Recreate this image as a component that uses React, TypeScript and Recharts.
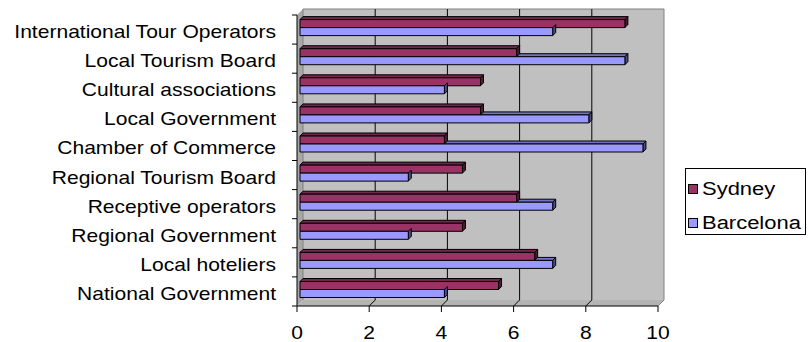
import { Bar, BarChart, Legend, ReferenceArea, XAxis, YAxis } from "recharts";

const categories = [
  "International Tour Operators",
  "Local Tourism Board",
  "Cultural associations",
  "Local Government",
  "Chamber of Commerce",
  "Regional Tourism Board",
  "Receptive operators",
  "Regional Government",
  "Local hoteliers",
  "National Government",
];
const sydney = [9, 6, 5, 5, 4, 4.5, 6, 4.5, 6.5, 5.5];
const barcelona = [7, 9, 4, 8, 9.5, 3, 7, 3, 7, 4];
const xTicks = [0, 2, 4, 6, 8, 10];

const data = categories.map((name, i) => ({
  name,
  Sydney: sydney[i],
  Barcelona: barcelona[i],
}));

// wall segments between neighbouring ticks
const panels = xTicks.slice(0, -1).map((t, i) => [t, xTicks[i + 1]]);

const D = 3; // half depth of the 3d box
const FONT = "'Liberation Sans', Arial, sans-serif";
const STRETCH = 1.17;

const colors = {
  Sydney: { front: "#993366", top: "#73264D", side: "#4D1A33" },
  Barcelona: { front: "#9999FF", top: "#7373BF", side: "#4D4D80" },
};

const WallPanel = (props: any) => {
  const { x, y, width, height, first, last } = props;
  const bx = x + D;
  const by = y - D;
  const fy = y + height + D;
  const n = categories.length;
  return (
    <g>
      <rect x={bx} y={by} width={width} height={height} fill="#C0C0C0" />
      <line x1={bx} y1={by} x2={bx + width} y2={by} stroke="#808080" />
      <polygon
        points={`${bx},${by + height} ${bx + width},${by + height} ${x + width - D},${fy} ${x - D},${fy}`}
        fill="#B4B4B4"
      />
      {!first && (
        <>
          <line x1={bx} y1={by} x2={bx} y2={by + height} stroke="#000" />
          <line x1={bx} y1={by + height} x2={x - D} y2={fy} stroke="#000" />
        </>
      )}
      {last && (
        <>
          <line x1={bx + width} y1={by} x2={bx + width} y2={by + height} stroke="#808080" />
          <line x1={bx + width} y1={by + height} x2={x + width - D} y2={fy} stroke="#808080" />
          <line x1={x + width - D} y1={fy} x2={x + width - D} y2={fy + 6} stroke="#000" />
        </>
      )}
      <line x1={x - D} y1={fy} x2={x + width - D} y2={fy} stroke="#000" />
      <line x1={x - D} y1={fy} x2={x - D} y2={fy + 6} stroke="#000" />
      {first && (
        <>
          <polygon
            points={`${x - D},${y + D} ${bx},${by} ${bx},${by + height} ${x - D},${fy}`}
            fill="#A8A8A8"
          />
          <line x1={bx} y1={by} x2={bx} y2={by + height} stroke="#808080" />
          <line x1={x - D} y1={y + D} x2={x - D} y2={fy} stroke="#000" />
          {Array.from({ length: n + 1 }, (_, k) => (
            <line
              key={k}
              x1={x - D - 5}
              x2={x - D}
              y1={y + D + (height * k) / n}
              y2={y + D + (height * k) / n}
              stroke="#000"
            />
          ))}
        </>
      )}
    </g>
  );
};

const Box = (props: any) => {
  const { x, y, width, height, dataKey, payload } = props;
  if (!width || width <= 0) return null;
  const c = colors[dataKey as "Sydney" | "Barcelona"];
  const fy = y + D / 2;
  let topStart = x;
  if (dataKey === "Barcelona") {
    // only the part sticking out past the Sydney bar shows its top
    topStart = payload.Sydney < payload.Barcelona ? x + (width * payload.Sydney) / payload.Barcelona : x + width;
  }
  return (
    <g stroke="#000" strokeWidth={1} strokeLinejoin="round">
      {topStart < x + width && (
        <polygon
          points={`${topStart},${fy} ${topStart + D},${fy - D} ${x + width + D},${fy - D} ${x + width},${fy}`}
          fill={c.top}
        />
      )}
      <polygon
        points={`${x + width},${fy} ${x + width + D},${fy - D} ${x + width + D},${fy + height - D} ${x + width},${fy + height}`}
        fill={c.side}
      />
      <rect x={x} y={fy} width={width} height={height} fill={c.front} />
    </g>
  );
};

const CategoryTick = (props: any) => {
  const { x, y, payload } = props;
  return (
    <text
      transform={`translate(${x - 24},${y + 11.5}) scale(${STRETCH},1)`}
      textAnchor="end"
      fontFamily={FONT}
      fontSize={18}
      fill="#000"
    >
      {payload.value}
    </text>
  );
};

const ValueTick = (props: any) => {
  const { x, y, payload } = props;
  return (
    <text
      transform={`translate(${x - D},${y + 36}) scale(${STRETCH},1)`}
      textAnchor="middle"
      fontFamily={FONT}
      fontSize={18}
      fill="#000"
    >
      {payload.value}
    </text>
  );
};

const LegendBox = () => (
  <div
    style={{
      border: "1px solid #000",
      background: "#fff",
      padding: "8px 0 6px 2px",
      fontFamily: FONT,
      fontSize: 18,
      lineHeight: "24px",
      boxSizing: "border-box",
      width: 121,
      height: 67,
    }}
  >
    {(["Sydney", "Barcelona"] as const).map((k) => (
      <div key={k} style={{ display: "flex", alignItems: "center", height: 24, marginBottom: 10 }}>
        <span
          style={{
            display: "inline-block",
            width: 8,
            height: 8,
            border: "1px solid #000",
            background: colors[k].front,
            marginRight: 4,
          }}
        />
        <span style={{ display: "inline-block", transform: "scaleX(1.22)", transformOrigin: "left center" }}>
          {k}
        </span>
      </div>
    ))}
  </div>
);

export default function App() {
  return (
    <div style={{ position: "absolute", left: 0, top: 0, width: 809, height: 342, background: "#fff" }}>
      <BarChart
        width={809}
        height={342}
        data={data}
        layout="vertical"
        margin={{ top: 12, right: 148, bottom: 0, left: 0 }}
        barCategoryGap="21%"
        barGap={0}
      >
        {panels.map(([a, b], i) => (
          <ReferenceArea
            key={i}
            x1={a}
            x2={b}
            ifOverflow="visible"
            shape={(p: any) => <WallPanel {...p} first={i === 0} last={i === panels.length - 1} />}
          />
        ))}
        <XAxis
          type="number"
          domain={[0, 10]}
          ticks={xTicks}
          axisLine={false}
          tickLine={false}
          tickSize={0}
          tickMargin={0}
          height={39}
          tick={<ValueTick />}
          interval={0}
        />
        <YAxis
          type="category"
          dataKey="name"
          width={300}
          axisLine={false}
          tickLine={false}
          tickSize={0}
          tickMargin={0}
          tick={<CategoryTick />}
          interval={0}
        />
        <Bar dataKey="Sydney" fill={colors.Sydney.front} shape={<Box />} isAnimationActive={false} />
        <Bar dataKey="Barcelona" fill={colors.Barcelona.front} shape={<Box />} isAnimationActive={false} />
        <Legend
          layout="vertical"
          align="center"
          verticalAlign="middle"
          content={<LegendBox />}
          wrapperStyle={{ left: 685, top: 168, width: 121, height: 67 }}
        />
      </BarChart>
    </div>
  );
}
